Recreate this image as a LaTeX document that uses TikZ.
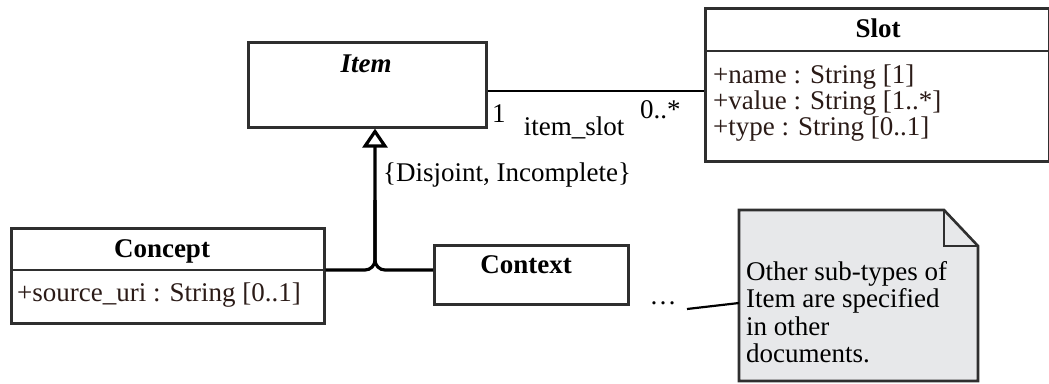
\documentclass[tikz,border=0pt]{standalone}
\usepackage{fontspec}
\setmainfont{Liberation Serif}
\usetikzlibrary{arrows.meta}
\definecolor{boxline}{HTML}{2F2F2F}
\definecolor{attrtext}{HTML}{2B1B17}
\definecolor{notefill}{HTML}{E7E8EA}
\begin{document}
\begin{tikzpicture}[x=1pt, y=-1pt,
	every node/.style={font=\fontsize{27}{26}\selectfont, inner sep=0pt},
	classbox/.style={draw=boxline, line width=2.6pt, anchor=north west, minimum width=#1},
	classname/.style={font=\fontsize{27}{26}\selectfont\bfseries, anchor=base},
	attrs/.style={text=attrtext, align=left, anchor=base west},
	genline/.style={line width=3.2pt, rounded corners=10pt},
	assoc/.style={line width=2.2pt}]
	\useasboundingbox (0,0) rectangle (1049,383);
	\node [classbox=238pt, minimum height=85pt] (item) at (247,41) {};
	\node [classname, font=\fontsize{27}{26}\selectfont\bfseries\itshape] (itemname) at (366,72) {Item};
	\node [classbox=344pt, minimum height=153pt] (slot) at (704,7) {};
	\draw [draw=boxline, line width=2.6pt] ([yshift=-44pt]slot.north west) -- ([yshift=-44pt]slot.north east);
	\node [classname] (slotname) at (878,37) {Slot};
	\node [attrs] (slotattrs) at (713,135) {+name : String [1]\\+value : String [1..*]\\+type : String [0..1]};
	\node [classbox=313pt, minimum height=95pt] (concept) at (10,227) {};
	\draw [draw=boxline, line width=2.6pt] ([yshift=-43pt]concept.north west) -- ([yshift=-43pt]concept.north east);
	\node [classname] (conceptname) at (162,257) {Concept};
	\node [attrs] (conceptattrs) at (17,301) {+source\_uri : String [0..1]};
	\node [classbox=194pt, minimum height=59pt] (context) at (433,244) {};
	\node [classname] (contextname) at (526,273) {Context};
	\draw [assoc] ([yshift=-6.5pt]item.east) -- ([yshift=-6.5pt]slot.west);
	\node [anchor=base west] (itemmult) at (492,122) {1};
	\node [anchor=base] (assocname) at (574,135) {item\_slot};
	\node [anchor=base west] (slotmult) at (640,118) {0..*};
	\coordinate (genjoint) at (375,270);
	\coordinate (genmid) at (375,200);
	\draw [genline, arrows={-Triangle[open, length=19pt, width=25pt]}] (genjoint -| concept.east) -- (genjoint) -- (genjoint |- item.south);
	\draw [genline] (genjoint -| context.west) -- (genjoint) -- (genmid);
	\node [anchor=base west] (constraint) at (383,181) {\{Disjoint, Incomplete\}};
	\node [anchor=base] (dots) at (663,304) {…};
	\draw [fill=notefill, draw=boxline, line width=2.6pt, line join=miter] (739,210) coordinate (note) -- (944,210) -- (978,246) -- (978,381) -- (739,381) -- cycle;
	\draw [draw=boxline, line width=2.6pt] (944,210) -- (944,246) -- (978,246);
	\node [anchor=base west, align=left, font=\fontsize{27}{27.5}\selectfont] (notetext) at (746,362.5) {Other sub-types of\\Item are specified\\in other\\documents.};
	\coordinate (notelink) at (739,303);
	\coordinate (dotsend) at (687,309);
	\draw [assoc] (dotsend) -- (notelink);
\end{tikzpicture}
\end{document}
